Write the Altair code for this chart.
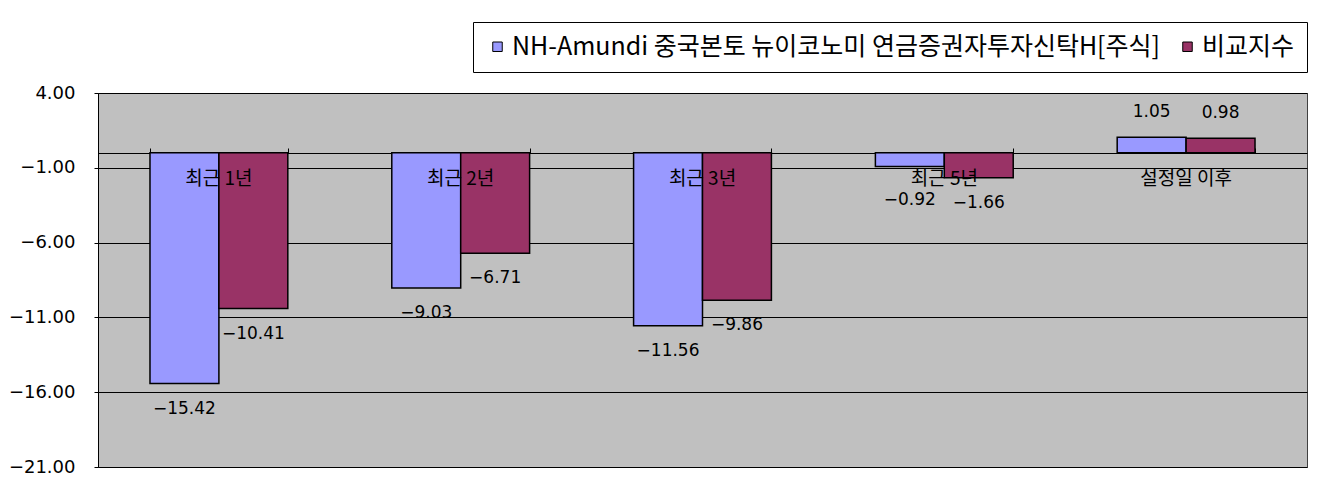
import altair as alt
import pandas as pd

categories = ["최근 1년", "최근 2년", "최근 3년", "최근 5년", "설정일 이후"]
series_names = ["NH-Amundi 중국본토 뉴이코노미 연금증권자투자신탁H[주식]", "비교지수"]
fund_values = [-15.42, -9.03, -11.56, -0.92, 1.05]
index_values = [-10.41, -6.71, -9.86, -1.66, 0.98]
y_ticks = [4, -1, -6, -11, -16, -21]
colors = ["#9999FF", "#993366"]

rows = []
for c, f, i in zip(categories, fund_values, index_values):
    rows.append({"cat": c, "series": series_names[0], "value": f})
    rows.append({"cat": c, "series": series_names[1], "value": i})
df = pd.DataFrame(rows)
cat_df = pd.DataFrame({"cat": categories, "zero": [0] * len(categories)})

KFONT = "Noto Sans CJK KR"
NFONT = "DejaVu Sans"

x_enc = alt.X("cat:N", sort=categories,
              scale=alt.Scale(paddingInner=0.43, paddingOuter=0.215),
              axis=alt.Axis(orient="top", offset=-60, labels=False, title=None,
                            tickBand="extent", ticks=True, tickSize=5, tickColor="black",
                            domainColor="black", grid=False))
y_scale = alt.Scale(domain=[-21, 4], nice=False, zero=False)
y_enc = alt.Y("value:Q", scale=y_scale,
              axis=alt.Axis(values=y_ticks, format=".2f", title=None, grid=True,
                            gridColor="black", gridWidth=1, domainColor="black",
                            tickColor="black", tickSize=4, labelPadding=19,
                            labelFontSize=18, labelFont=NFONT, labelColor="black"))
color_enc = alt.Color("series:N", scale=alt.Scale(domain=series_names, range=colors),
                      sort=series_names,
                      legend=alt.Legend(title=None, orient="none", legendX=375, legendY=-71,
                                        direction="horizontal", fillColor="white",
                                        strokeColor="black", padding=12,
                                        symbolType="square", symbolSize=90,
                                        symbolStrokeColor="black", symbolStrokeWidth=1,
                                        symbolOpacity=1,
                                        labelFontSize=25, labelFont=KFONT, labelColor="black",
                                        labelLimit=0, columnPadding=14, labelOffset=2))
xoff = alt.XOffset("series:N", sort=series_names)

base = alt.Chart(df)
bars = base.mark_bar(stroke="black", strokeWidth=1.5, opacity=1).encode(
    x=x_enc, xOffset=xoff, y=y_enc, y2=alt.datum(0), color=color_enc)

neg_labels = base.transform_filter("datum.value < 0").transform_calculate(
    ly="min(datum.value, -1.5)").mark_text(
    dy=25, fontSize=17, font=NFONT, color="black").encode(
    x=alt.X("cat:N", sort=categories), xOffset=xoff, y=alt.Y("ly:Q", scale=y_scale),
    text=alt.Text("value:Q", format=".2f"))
pos_labels = base.transform_filter("datum.value >= 0").mark_text(
    dy=-25, fontSize=17, font=NFONT, color="black").encode(
    x=alt.X("cat:N", sort=categories), xOffset=xoff, y=alt.Y("value:Q", scale=y_scale),
    text=alt.Text("value:Q", format=".2f"))

cat_labels = alt.Chart(cat_df).mark_text(dy=26, fontSize=19, font=KFONT, color="black").encode(
    x=alt.X("cat:N", sort=categories), y=alt.Y("zero:Q", scale=y_scale), text="cat:N")

chart = alt.layer(bars, neg_labels, pos_labels, cat_labels).properties(
    width=1209, height=374,
    autosize=alt.AutoSizeParams(type="none"),
    padding={"left": 90, "top": 85, "right": 12, "bottom": 22},
    background="white",
).configure_view(fill="#C0C0C0", stroke="#404040", strokeWidth=1)

chart.save("out.html", embed_options={"renderer": "svg", "actions": False})
